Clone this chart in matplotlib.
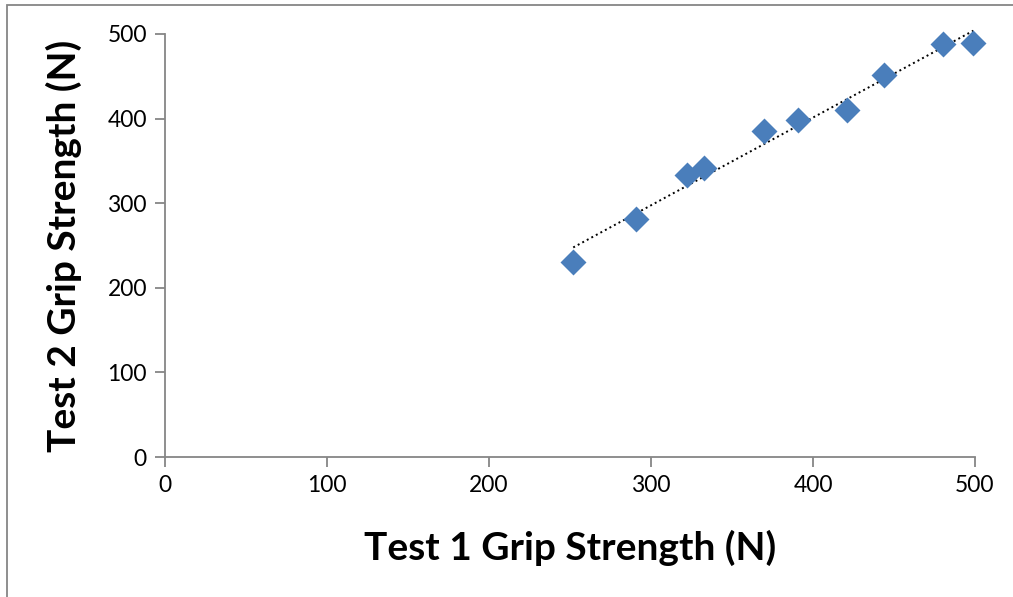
import matplotlib
matplotlib.use("Agg")
import matplotlib.pyplot as plt
import numpy as np
from matplotlib.patches import Rectangle

# ── data ────────────────────────────────────────────────────────────────────
test1 = [252, 291, 322, 333, 370, 391, 421, 444, 480, 499]
test2 = [230, 281, 333, 342, 385, 398, 410, 452, 488, 489]
ticks = [0, 100, 200, 300, 400, 500]

BLUE = "#4A7EBB"
GRAY = "#868686"

plt.rcParams.update({
    "font.family": ["Lato", "DejaVu Sans"],
    "font.size": 13,
})

fig = plt.figure(figsize=(10.13, 5.97), dpi=100)
ax = fig.add_axes([165 / 1013, 1 - 457 / 597, 810 / 1013, 423 / 597])

ax.scatter(test1, test2, marker="D", s=175, color=BLUE, edgecolor=BLUE,
           linewidths=0, zorder=3, clip_on=False)

# linear trendline
slope, icpt = np.polyfit(test1, test2, 1)
xx = np.array([min(test1), max(test1)])
ax.plot(xx, slope * xx + icpt, ":", color="black", lw=1.4, zorder=2,
        clip_on=False)

ax.set_xlim(0, 500)
ax.set_ylim(0, 500)
ax.set_xticks(ticks)
ax.set_yticks(ticks)
for s in ("top", "right"):
    ax.spines[s].set_visible(False)
for s in ("left", "bottom"):
    ax.spines[s].set_color(GRAY)
    ax.spines[s].set_linewidth(1.3)
ax.tick_params(direction="out", length=7, width=1.3, color=GRAY,
               labelsize=16.5, labelcolor="black", pad=6)
ax.set_xlabel("Test 1 Grip Strength (N)", fontsize=28, fontweight="bold",
              labelpad=24)
ax.set_ylabel("Test 2 Grip Strength (N)", fontsize=28, fontweight="bold",
              labelpad=18)

# outer chart frame
fig.patches.append(Rectangle((7 / 1013, -0.05), 1.1, 1 - 5 / 597 + 0.05,
                             transform=fig.transFigure, fill=False,
                             edgecolor=GRAY, lw=1.3))

fig.savefig("out.png", dpi=100, facecolor="white")
